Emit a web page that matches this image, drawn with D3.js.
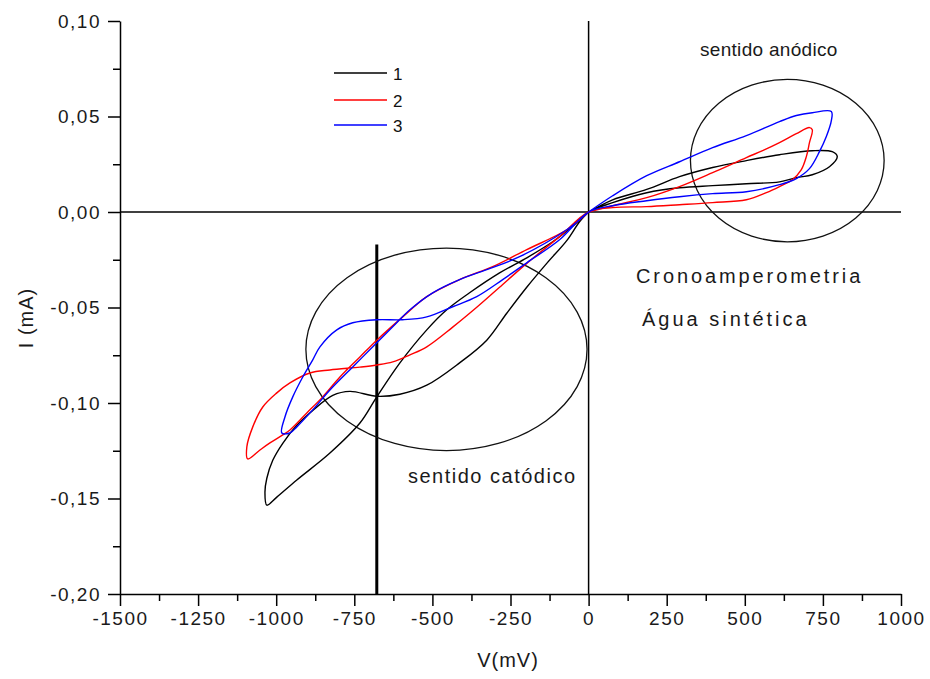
<!DOCTYPE html>
<html>
<head>
<meta charset="utf-8">
<script src="https://cdn.jsdelivr.net/npm/d3@7"></script>
<style>
  body { margin: 0; background: #fff; }
  svg { font-family: "Liberation Sans", Arial, sans-serif; }
  .tick text { fill: #1a1a1a; }
</style>
</head>
<body>
<svg id="chart"></svg>
<script>
// tick values
var vTicks = [-1500, -1250, -1000, -750, -500, -250, 0, 250, 500, 750, 1000];
var iTicks = [-0.20, -0.15, -0.10, -0.05, 0.00, 0.05, 0.10];

var seriesNames = ["1", "2", "3"];
var seriesColors = ["#000000", "#ff0000", "#0000ff"];

// curve 1 (black): [V (mV), I (mA)]
var curve1 = [
  [0, 0], [77, 0.0064], [186, 0.0118], [291, 0.0185], [397, 0.0233], [505, 0.0269],
  [611, 0.0300], [716, 0.0321], [780, 0.0316], [796, 0.0290], [771, 0.0237], [716, 0.0195],
  [665, 0.0180], [611, 0.0158], [505, 0.0148], [397, 0.0138], [291, 0.0127], [186, 0.0101],
  [77, 0.0049], [0, 0],
  [-45, -0.0067], [-115, -0.0156], [-198, -0.0240], [-285, -0.0319], [-381, -0.0423],
  [-454, -0.0512], [-518, -0.0617], [-604, -0.0790], [-678, -0.0968], [-732, -0.1105],
  [-828, -0.1262], [-934, -0.1403], [-998, -0.1493], [-1030, -0.1535], [-1036, -0.1467],
  [-1030, -0.1394], [-1011, -0.1300], [-979, -0.1211], [-934, -0.1117], [-883, -0.1039],
  [-819, -0.0960], [-764, -0.0939], [-678, -0.0965], [-604, -0.0954], [-518, -0.0907],
  [-413, -0.0790], [-326, -0.0671], [-262, -0.0530], [-198, -0.0394], [-134, -0.0269],
  [-70, -0.0150], [-29, -0.0051], [0, 0]
];

// curve 2 (red)
var curve2 = [
  [0, 0], [77, 0.0033], [186, 0.0075], [291, 0.0133], [397, 0.0206], [505, 0.0285],
  [557, 0.0321], [611, 0.0363], [665, 0.0410], [707, 0.0442], [716, 0.0431], [707, 0.0363],
  [697, 0.0290], [681, 0.0222], [652, 0.0169], [611, 0.0133], [569, 0.0101], [505, 0.0064],
  [397, 0.0049], [291, 0.0038], [186, 0.0028], [77, 0.0023], [0, 0],
  [-93, -0.0129], [-198, -0.0269], [-285, -0.0394], [-358, -0.0499], [-435, -0.0603],
  [-518, -0.0706], [-572, -0.0748], [-627, -0.0785], [-678, -0.0801], [-732, -0.0812],
  [-828, -0.0827], [-892, -0.0843], [-956, -0.0895], [-998, -0.0947], [-1043, -0.1021],
  [-1075, -0.1125], [-1094, -0.1230], [-1091, -0.1293], [-1052, -0.1246], [-1020, -0.1209],
  [-979, -0.1167], [-956, -0.1141], [-902, -0.1052], [-851, -0.0968], [-796, -0.0864],
  [-732, -0.0759], [-678, -0.0671], [-595, -0.0549], [-518, -0.0443], [-413, -0.0354],
  [-307, -0.0286], [-198, -0.0197], [-70, -0.0093], [0, 0]
];

// curve 3 (blue)
var curve3 = [
  [0, 0], [77, 0.0085], [186, 0.0190], [291, 0.0263], [397, 0.0337], [505, 0.0400],
  [611, 0.0473], [665, 0.0505], [716, 0.0520], [777, 0.0526], [777, 0.0478], [761, 0.0395],
  [739, 0.0316], [707, 0.0227], [665, 0.0175], [611, 0.0143], [505, 0.0106], [397, 0.0096],
  [291, 0.0080], [186, 0.0059], [77, 0.0033], [0, 0],
  [-93, -0.0145], [-198, -0.0266], [-275, -0.0354], [-358, -0.0443], [-435, -0.0496],
  [-518, -0.0549], [-595, -0.0564], [-678, -0.0564], [-755, -0.0580], [-806, -0.0617],
  [-860, -0.0706], [-883, -0.0774], [-915, -0.0864], [-947, -0.0968], [-972, -0.1073],
  [-982, -0.1157], [-956, -0.1157], [-934, -0.1125], [-883, -0.1036], [-828, -0.0932],
  [-755, -0.0811], [-678, -0.0685], [-627, -0.0601], [-572, -0.0512], [-499, -0.0423],
  [-413, -0.0354], [-326, -0.0302], [-221, -0.0234], [-70, -0.0093], [0, 0]
];

// annotation ellipses: centre and radii in data units
var anodicEllipse = { v: 636, i: 0.0269, rv: 310, ri: 0.0425 };
var cathodicEllipse = { v: -455, i: -0.0719, rv: 450, ri: 0.0530 };
// thick vertical marker
var markerV = -678;
var markerTop = -0.017;

var dimensions = {
    width: 930,
    height: 679,
    margin: { top: 21, bottom: 85, right: 29, left: 120 }
};

var svg = d3.select("#chart")
    .attr("width", dimensions.width)
    .attr("height", dimensions.height);

var xScale = d3.scaleLinear()
    .domain([-1500, 1000])
    .range([dimensions.margin.left, dimensions.width - dimensions.margin.right]);

var yScale = d3.scaleLinear()
    .domain([-0.20, 0.10])
    .range([dimensions.height - dimensions.margin.bottom, dimensions.margin.top]);

var bottomY = dimensions.height - dimensions.margin.bottom;

// minor ticks
var xMinor = d3.axisBottom(xScale)
    .tickValues(d3.range(-1375, 1000, 250))
    .tickSize(7).tickSizeOuter(0).tickFormat("");
svg.append("g").attr("transform", "translate(0," + bottomY + ")").call(xMinor)
    .select(".domain").remove();

var yMinor = d3.axisLeft(yScale)
    .tickValues([-0.175, -0.125, -0.075, -0.025, 0.025, 0.075])
    .tickSize(7).tickSizeOuter(0).tickFormat("");
svg.append("g").attr("transform", "translate(" + dimensions.margin.left + ",0)").call(yMinor)
    .select(".domain").remove();

// main axes
var xAxis = d3.axisBottom(xScale)
    .tickValues(vTicks)
    .tickSize(12).tickSizeOuter(0).tickPadding(6)
    .tickFormat(function(d) { return d3.format("d")(d).replace("−", "-"); });

var gx = svg.append("g")
    .attr("transform", "translate(0," + bottomY + ")")
    .call(xAxis);
gx.selectAll("text").attr("font-size", 19).style("letter-spacing", "1.5px");

var yAxis = d3.axisLeft(yScale)
    .tickValues(iTicks)
    .tickSize(12).tickSizeOuter(0).tickPadding(7)
    .tickFormat(function(d) { return d3.format(".2f")(d).replace("−", "-").replace(".", ","); });

var gy = svg.append("g")
    .attr("transform", "translate(" + dimensions.margin.left + ",0)")
    .call(yAxis);
gy.selectAll("text").attr("font-size", 19).style("letter-spacing", "1.5px");

svg.selectAll(".domain, .tick line").attr("stroke", "#000").attr("stroke-width", 1.5);

// zero lines
svg.append("line")
    .attr("x1", xScale(-1500)).attr("x2", xScale(1000))
    .attr("y1", yScale(0)).attr("y2", yScale(0))
    .attr("stroke", "#000").attr("stroke-width", 1.5);
svg.append("line")
    .attr("x1", xScale(0)).attr("x2", xScale(0))
    .attr("y1", yScale(0.10)).attr("y2", yScale(-0.20))
    .attr("stroke", "#000").attr("stroke-width", 1.5);

// thick marker
svg.append("line")
    .attr("x1", xScale(markerV)).attr("x2", xScale(markerV))
    .attr("y1", yScale(markerTop)).attr("y2", yScale(-0.20))
    .attr("stroke", "#000").attr("stroke-width", 3);

// ellipses
[anodicEllipse, cathodicEllipse].forEach(function(e) {
    svg.append("ellipse")
        .attr("cx", xScale(e.v))
        .attr("cy", yScale(e.i))
        .attr("rx", xScale(e.v + e.rv) - xScale(e.v))
        .attr("ry", yScale(e.i - e.ri) - yScale(e.i))
        .attr("fill", "none")
        .attr("stroke", "#111")
        .attr("stroke-width", 1.3);
});

// curves
var line = d3.line()
    .x(function(d) { return xScale(d[0]); })
    .y(function(d) { return yScale(d[1]); })
    .curve(d3.curveCatmullRom.alpha(0.5));

var curves = [curve1, curve2, curve3];
curves.forEach(function(c, i) {
    svg.append("path")
        .datum(c)
        .attr("d", line)
        .attr("fill", "none")
        .attr("stroke", seriesColors[i])
        .attr("stroke-width", 1.4);
});

// legend
var legend = svg.append("g").attr("transform", "translate(334,73)");
seriesNames.forEach(function(name, i) {
    var yy = [0, 27, 52][i];
    legend.append("line")
        .attr("x1", 0).attr("x2", 53)
        .attr("y1", yy).attr("y2", yy)
        .attr("stroke", seriesColors[i]).attr("stroke-width", 1.6);
    legend.append("text")
        .attr("x", 59).attr("y", yy + 7)
        .attr("font-size", 17)
        .attr("fill", "#111")
        .text(name);
});

// annotations
function note(txt, x, y, size, spacing) {
    svg.append("text")
        .attr("x", x).attr("y", y)
        .attr("font-size", size)
        .attr("fill", "#1a1a1a")
        .style("letter-spacing", spacing + "px")
        .text(txt);
}
note("sentido anódico", 700, 56, 19, 0.3);
note("Cronoamperometria", 636, 283, 20, 2.9);
note("Água sintética", 642, 326, 20, 3);
note("sentido catódico", 408, 483, 20, 1.5);

// axis titles
svg.append("text")
    .attr("x", 508).attr("y", 667)
    .attr("text-anchor", "middle")
    .attr("font-size", 20)
    .attr("fill", "#1a1a1a")
    .style("letter-spacing", "1px")
    .text("V(mV)");

svg.append("text")
    .attr("transform", "translate(33,318) rotate(-90)")
    .attr("text-anchor", "middle")
    .attr("font-size", 20)
    .attr("fill", "#1a1a1a")
    .style("letter-spacing", "1px")
    .text("I (mA)");
</script>
</body>
</html>
